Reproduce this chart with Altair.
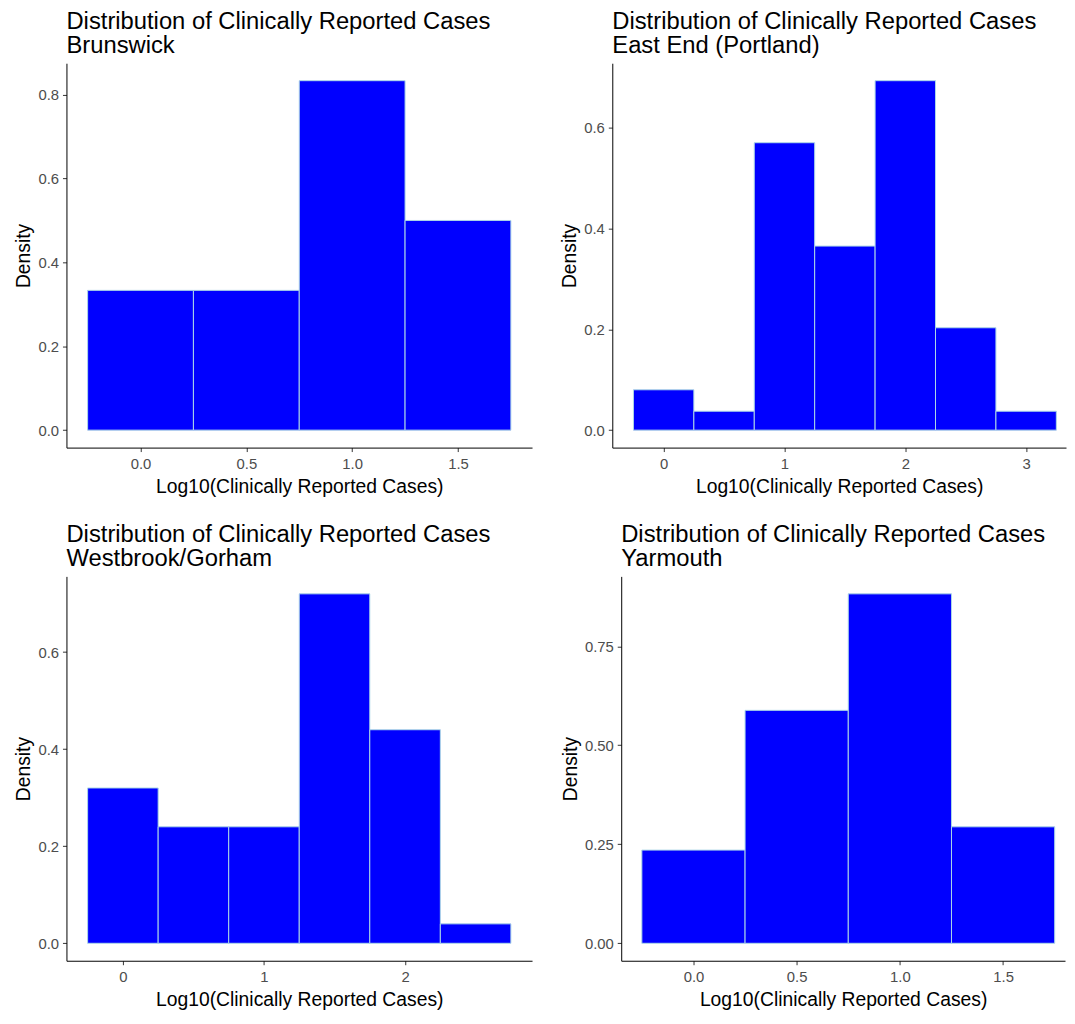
import altair as alt
import pandas as pd

# ---- data (density per 0.5-wide bin, centred on the listed values) ----
BIN_WIDTH = 0.5
subtitles = ["Brunswick", "\u00a0East End (Portland)", "Westbrook/Gorham", "Yarmouth"]

brunswick_centers = [0.0, 0.5, 1.0, 1.5]
brunswick_density = [0.3333, 0.3333, 0.8333, 0.5]

eastend_centers = [0.0, 0.5, 1.0, 1.5, 2.0, 2.5, 3.0]
eastend_density = [0.080, 0.0375, 0.570, 0.365, 0.693, 0.203, 0.0375]

westbrook_centers = [0.0, 0.5, 1.0, 1.5, 2.0, 2.5]
westbrook_density = [0.32, 0.24, 0.24, 0.72, 0.44, 0.04]

yarmouth_centers = [0.0, 0.5, 1.0, 1.5]
yarmouth_density = [0.2353, 0.5882, 0.8824, 0.2941]

x_ticks = [[0, 0.5, 1, 1.5], [0, 1, 2, 3], [0, 1, 2], [0, 0.5, 1, 1.5]]
x_formats = [".1f", "d", "d", ".1f"]
y_ticks = [[0, 0.2, 0.4, 0.6, 0.8], [0, 0.2, 0.4, 0.6], [0, 0.2, 0.4, 0.6], [0, 0.25, 0.5, 0.75]]
y_formats = [".1f", ".1f", ".1f", ".2f"]

FONT = "Liberation Sans"
TITLE_LINE1 = "Distribution of Clinically Reported Cases"


def panel(sub, centers, dens, xt, xf, yt, yf, width, x_upper_trim=None, height=388):
    df = pd.DataFrame({
        "lo": [c - BIN_WIDTH / 2 for c in centers],
        "hi": [c + BIN_WIDTH / 2 for c in centers],
        "density": dens,
    })
    lo_min, hi_max = min(df["lo"]), max(df["hi"])
    pad = 0.05 * (hi_max - lo_min)
    xdom = [lo_min - pad, hi_max + pad if x_upper_trim is None else x_upper_trim]
    ymax = max(dens)
    ydom = [-0.05 * ymax, 1.05 * ymax]
    return (
        alt.Chart(df, title=alt.Title(text=[TITLE_LINE1, sub]))
        .mark_rect(fill="#0000FF", stroke="#ADD8E6", strokeWidth=1)
        .encode(
            x=alt.X("lo:Q", scale=alt.Scale(domain=xdom, nice=False, zero=False),
                    axis=alt.Axis(values=xt, format=xf, title="Log10(Clinically Reported Cases)")),
            x2="hi:Q",
            y=alt.Y("density:Q", scale=alt.Scale(domain=ydom, nice=False, zero=False),
                    axis=alt.Axis(values=yt, format=yf, title="Density")),
            y2=alt.datum(0),
        )
        .properties(width=width, height=height)
    )


p1 = panel(subtitles[0], brunswick_centers, brunswick_density, x_ticks[0], x_formats[0],
           y_ticks[0], y_formats[0], 470)
p2 = panel(subtitles[1], eastend_centers, eastend_density, x_ticks[1], x_formats[1],
           y_ticks[1], y_formats[1], 458, x_upper_trim=3.33)
p3 = panel(subtitles[2], westbrook_centers, westbrook_density, x_ticks[2], x_formats[2],
           y_ticks[2], y_formats[2], 470)
p4 = panel(subtitles[3], yarmouth_centers, yarmouth_density, x_ticks[3], x_formats[3],
           y_ticks[3], y_formats[3], 448, x_upper_trim=1.80)

row1 = alt.hconcat(p1, p2, spacing=26)
row2 = alt.hconcat(p3, p4, spacing=27)

chart = (
    alt.vconcat(row1, row2, spacing=26)
    .properties(padding={"left": 5, "top": -4, "right": 0, "bottom": 0}, background="white")
    .configure_view(stroke="transparent")
    .configure_axis(
        grid=False, domainColor="black", domainWidth=1, tickColor="#333333", tickWidth=1,
        tickSize=4, labelColor="#4D4D4D", labelFontSize=15, labelFont=FONT, labelPadding=4,
        labelFlush=False, titleFont=FONT, titleFontSize=19.5, titleFontWeight="normal",
        titleColor="black",
    )
    .configure_axisX(titlePadding=6, labelPadding=5)
    .configure_axisY(titlePadding=4)
    .configure_title(font=FONT, fontSize=24, fontWeight="normal", color="black",
                     anchor="start", frame="group", offset=5, lineHeight=25)
)

chart.save("out.html", embed_options={"renderer": "svg", "actions": False})
